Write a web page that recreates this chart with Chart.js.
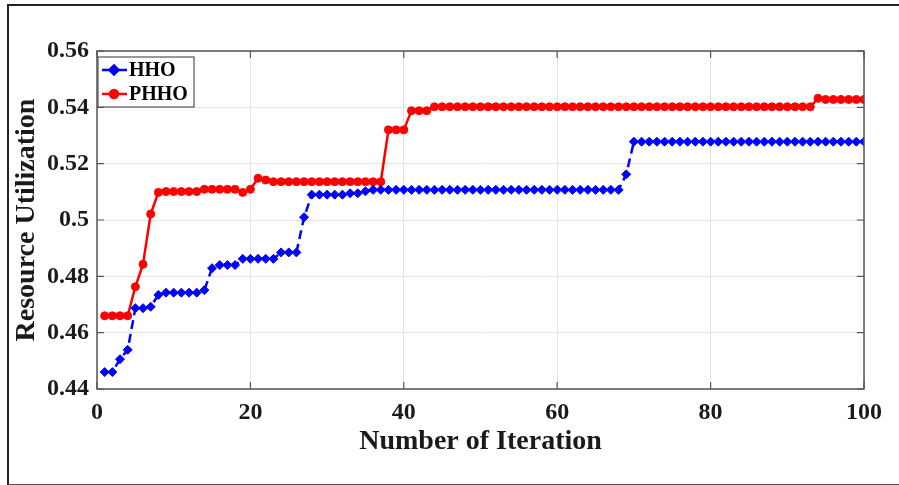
<!DOCTYPE html>
<html>
<head>
<meta charset="utf-8">
<script src="https://cdn.jsdelivr.net/npm/chart.js@4/dist/chart.umd.min.js"></script>
<style>
  html, body { margin: 0; padding: 0; background: #fff; }
  #wrap { position: relative; width: 899px; height: 485px; overflow: hidden; }
  #frame { position: absolute; left: 7px; top: 4px; width: 900px; height: 478px;
           border-left: 2px solid #222; border-top: 2px solid #222; border-bottom: 2px solid #555; }
  canvas { position: absolute; left: 0; top: 0; }
</style>
</head>
<body>
<div id="wrap">
  <div id="frame"></div>
  <canvas id="chart" width="899" height="485"></canvas>
</div>
<script>
// iterations 1..100
const iterations = Array.from({ length: 100 }, (_, i) => i + 1);

// HHO resource utilization per iteration
const hhoValues = [
  0.4460, 0.4460, 0.4506, 0.4539, 0.4687, 0.4687, 0.4692, 0.4734, 0.4742, 0.4742,
  0.4742, 0.4742, 0.4742, 0.4751, 0.4829, 0.4840, 0.4840, 0.4840, 0.4862, 0.4862,
  0.4862, 0.4862, 0.4862, 0.4885, 0.4885, 0.4885, 0.5010, 0.5090, 0.5090, 0.5090,
  0.5090, 0.5090, 0.5095, 0.5095, 0.5102, 0.5107, 0.5107, 0.5107, 0.5107, 0.5107,
  0.5107, 0.5107, 0.5107, 0.5107, 0.5107, 0.5107, 0.5107, 0.5107, 0.5107, 0.5107,
  0.5107, 0.5107, 0.5107, 0.5107, 0.5107, 0.5107, 0.5107, 0.5107, 0.5107, 0.5107,
  0.5107, 0.5107, 0.5107, 0.5107, 0.5107, 0.5107, 0.5107, 0.5107, 0.5162, 0.5278,
  0.5278, 0.5278, 0.5278, 0.5278, 0.5278, 0.5278, 0.5278, 0.5278, 0.5278, 0.5278,
  0.5278, 0.5278, 0.5278, 0.5278, 0.5278, 0.5278, 0.5278, 0.5278, 0.5278, 0.5278,
  0.5278, 0.5278, 0.5278, 0.5278, 0.5278, 0.5278, 0.5278, 0.5278, 0.5278, 0.5278
];

// PHHO resource utilization per iteration
const phhoValues = [
  0.4660, 0.4660, 0.4660, 0.4660, 0.4763, 0.4843, 0.5021, 0.5098, 0.5101, 0.5101,
  0.5101, 0.5101, 0.5101, 0.5109, 0.5109, 0.5109, 0.5109, 0.5109, 0.5098, 0.5109,
  0.5148, 0.5142, 0.5136, 0.5136, 0.5136, 0.5136, 0.5136, 0.5136, 0.5136, 0.5136,
  0.5136, 0.5136, 0.5136, 0.5136, 0.5136, 0.5136, 0.5136, 0.5320, 0.5320, 0.5320,
  0.5388, 0.5388, 0.5388, 0.5402, 0.5402, 0.5402, 0.5402, 0.5402, 0.5402, 0.5402,
  0.5402, 0.5402, 0.5402, 0.5402, 0.5402, 0.5402, 0.5402, 0.5402, 0.5402, 0.5402,
  0.5402, 0.5402, 0.5402, 0.5402, 0.5402, 0.5402, 0.5402, 0.5402, 0.5402, 0.5402,
  0.5402, 0.5402, 0.5402, 0.5402, 0.5402, 0.5402, 0.5402, 0.5402, 0.5402, 0.5402,
  0.5402, 0.5402, 0.5402, 0.5402, 0.5402, 0.5402, 0.5402, 0.5402, 0.5402, 0.5402,
  0.5402, 0.5402, 0.5402, 0.5432, 0.5428, 0.5428, 0.5428, 0.5428, 0.5428, 0.5428
];

const xTicks = [0, 20, 40, 60, 80, 100];
const yTicks = [0.44, 0.46, 0.48, 0.5, 0.52, 0.54, 0.56];

const FONT = "'Liberation Serif', 'Times New Roman', serif";
const TEXT = '#1a1a1a';

const toPoints = vals => vals.map((v, i) => ({ x: iterations[i], y: v }));

// MATLAB-style box with inward ticks on all four sides
const boxPlugin = {
  id: 'box',
  afterDatasetsDraw(chart) {
    const { ctx, chartArea: a, scales } = chart;
    ctx.save();
    ctx.strokeStyle = '#555';
    ctx.lineWidth = 1.5;
    ctx.strokeRect(a.left, a.top, a.right - a.left, a.bottom - a.top);
    ctx.lineWidth = 1.2;
    ctx.beginPath();
    xTicks.forEach(t => {
      const px = scales.x.getPixelForValue(t);
      ctx.moveTo(px, a.bottom); ctx.lineTo(px, a.bottom - 7);
      ctx.moveTo(px, a.top); ctx.lineTo(px, a.top + 7);
    });
    yTicks.forEach(t => {
      const py = scales.y.getPixelForValue(t);
      ctx.moveTo(a.left, py); ctx.lineTo(a.left + 7, py);
      ctx.moveTo(a.right, py); ctx.lineTo(a.right - 7, py);
    });
    ctx.stroke();
    ctx.restore();
  }
};

// legend box in the top-left corner of the plot
const legendPlugin = {
  id: 'insideLegend',
  afterDraw(chart) {
    const { ctx, chartArea: a } = chart;
    const x0 = a.left + 1, y0 = a.top + 6, w = 96, h = 50;
    ctx.save();
    ctx.fillStyle = '#fff';
    ctx.fillRect(x0, y0, w, h);
    ctx.strokeStyle = '#555';
    ctx.lineWidth = 1.2;
    ctx.strokeRect(x0, y0, w, h);
    chart.data.datasets.forEach((ds, i) => {
      const cy = y0 + 13 + i * 24;
      ctx.strokeStyle = ds.borderColor;
      ctx.lineWidth = 2.5;
      ctx.setLineDash([]);
      ctx.beginPath();
      ctx.moveTo(x0 + 4, cy);
      ctx.lineTo(x0 + 29, cy);
      ctx.stroke();
      Chart.helpers.drawPoint(ctx, {
        pointStyle: ds.pointStyle, radius: ds.pointRadius, borderWidth: 1
      }, x0 + 16, cy);
      ctx.fillStyle = ds.borderColor;
      ctx.beginPath();
      if (ds.pointStyle === 'circle') {
        ctx.arc(x0 + 16, cy, ds.pointRadius, 0, Math.PI * 2);
      } else {
        ctx.moveTo(x0 + 16, cy - ds.pointRadius - 0.5);
        ctx.lineTo(x0 + 16 + ds.pointRadius, cy);
        ctx.lineTo(x0 + 16, cy + ds.pointRadius + 0.5);
        ctx.lineTo(x0 + 16 - ds.pointRadius, cy);
        ctx.closePath();
      }
      ctx.fill();
      ctx.fillStyle = '#000';
      ctx.font = 'bold 20px ' + FONT;
      ctx.textBaseline = 'middle';
      ctx.fillText(ds.label, x0 + 31, cy + 1);
    });
    ctx.restore();
  }
};

new Chart(document.getElementById('chart'), {
  type: 'line',
  data: {
    datasets: [
      {
        label: 'HHO',
        data: toPoints(hhoValues),
        borderColor: '#0000ff',
        backgroundColor: '#0000ff',
        borderWidth: 2.5,
        borderDash: [9, 5],
        pointStyle: 'rectRot',
        pointRadius: 4.5,
        pointBorderWidth: 1,
        tension: 0
      },
      {
        label: 'PHHO',
        data: toPoints(phhoValues),
        borderColor: '#ff0000',
        backgroundColor: '#ff0000',
        borderWidth: 2.5,
        pointStyle: 'circle',
        pointRadius: 4,
        pointBorderWidth: 1,
        tension: 0
      }
    ]
  },
  options: {
    responsive: false,
    animation: false,
    devicePixelRatio: 1,
    layout: { padding: { top: 51, right: 35, left: 0, bottom: 0 } },
    plugins: {
      legend: { display: false },
      tooltip: { enabled: false }
    },
    scales: {
      x: {
        type: 'linear',
        min: 0,
        max: 100,
        afterBuildTicks: s => { s.ticks = xTicks.map(v => ({ value: v })); },
        afterFit: s => { s.height = 96; },
        ticks: { padding: 9, color: TEXT, font: { family: FONT, size: 24, weight: 'bold' }, maxRotation: 0 },
        grid: { color: '#e3e3e3', lineWidth: 1, drawTicks: false },
        border: { display: false },
        title: {
          display: true,
          text: 'Number of Iteration',
          color: TEXT,
          font: { family: FONT, size: 28, weight: 'bold' },
          padding: { top: 0, bottom: 26 }
        }
      },
      y: {
        min: 0.44,
        max: 0.56,
        afterBuildTicks: s => { s.ticks = yTicks.map(v => ({ value: v })); },
        afterFit: s => { s.width = 97; },
        ticks: {
          padding: 8,
          color: TEXT,
          font: { family: FONT, size: 24, weight: 'bold' },
          callback: v => String(+v.toFixed(2))
        },
        grid: { color: '#e3e3e3', lineWidth: 1, drawTicks: false },
        border: { display: false },
        title: {
          display: true,
          text: 'Resource Utilization',
          color: TEXT,
          font: { family: FONT, size: 28, weight: 'bold' },
          padding: { top: 10, bottom: 0 }
        }
      }
    }
  },
  plugins: [boxPlugin, legendPlugin]
});
</script>
</body>
</html>
